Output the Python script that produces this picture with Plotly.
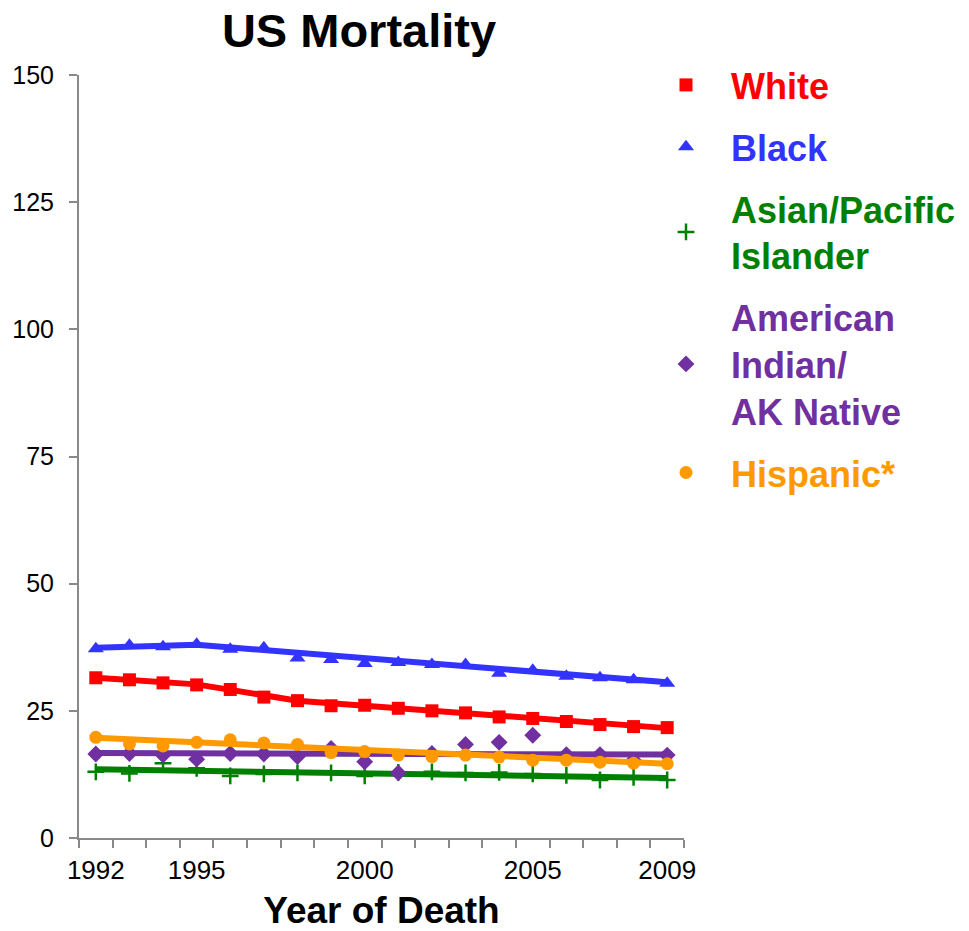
import plotly.graph_objects as go

years = list(range(1992, 2010))

white = [31.5, 31.1, 30.5, 30.1, 29.2, 27.7, 27.0, 26.0, 26.1, 25.5, 25.0, 24.6, 23.8, 23.5, 22.9, 22.3, 21.9, 21.7]
black = [37.2, 37.9, 37.6, 38.1, 37.1, 37.4, 35.4, 35.1, 34.3, 34.5, 34.1, 34.1, 32.4, 33.0, 31.8, 31.5, 31.1, 30.4]
api = [13.0, 12.7, 14.7, 13.7, 12.2, 12.6, 12.8, 12.8, 12.2, 12.9, 13.0, 12.8, 12.9, 12.6, 12.3, 11.4, 11.9, 11.4]
aian = [16.5, 16.6, 16.3, 15.5, 16.6, 16.5, 16.0, 17.6, 15.0, 12.8, 16.6, 18.4, 18.8, 20.2, 16.4, 16.4, 15.3, 16.3]
hisp = [19.8, 18.5, 18.1, 18.8, 19.3, 18.7, 18.4, 16.8, 17.0, 16.3, 16.0, 16.3, 15.9, 15.3, 15.3, 14.9, 14.7, 14.6]

# fitted trend (joinpoint) segments
white_fit_x = [1992, 1995, 1998, 2009]
white_fit_y = [31.5, 30.2, 27.0, 21.6]
black_fit_x = [1992, 1995, 2009]
black_fit_y = [37.4, 38.0, 30.6]
api_fit_x = [1992, 2009]
api_fit_y = [13.5, 11.8]
aian_fit_x = [1992, 2009]
aian_fit_y = [16.7, 16.4]
hisp_fit_x = [1992, 2009]
hisp_fit_y = [19.7, 14.6]

tick_years = [1992, 1995, 2000, 2005, 2009]
tick_labels = ["1992", "1995", "2000", "2005", "2009"]
y_ticks = [0, 25, 50, 75, 100, 125, 150]

RED = "#FF0000"
BLUE = "#3333FF"
GREEN = "#008000"
PURPLE = "#7030A0"
ORANGE = "#FF9900"


def lbl(lines, color):
    return "<br>".join("<b><span style='color:%s'>%s</span></b>" % (color, l) for l in lines)


series = [
    (["White"], white, white_fit_x, white_fit_y, RED, "square", 13, None),
    (["Black"], black, black_fit_x, black_fit_y, BLUE, "triangle-up", 14, None),
    (["Asian/Pacific", "Islander"], api, api_fit_x, api_fit_y, GREEN, "cross-thin", 12, 2.5),
    (["American", "Indian/", "AK Native"], aian, aian_fit_x, aian_fit_y, PURPLE, "diamond", 13, None),
    (["Hispanic*"], hisp, hisp_fit_x, hisp_fit_y, ORANGE, "circle", 13, None),
]

fig = go.Figure()
for i, (name, vals, fx, fy, color, sym, size, lw) in enumerate(series):
    marker = dict(symbol=sym, size=size, color=color)
    if lw:
        marker["line"] = dict(color=color, width=lw)
    fig.add_trace(go.Scatter(
        x=years, y=vals, mode="markers", name=lbl(name, color),
        marker=marker, legendgroup="g%d" % i, showlegend=True,
    ))
    fig.add_trace(go.Scatter(
        x=fx, y=fy, mode="lines", line=dict(color=color, width=6),
        legendgroup="g%d" % i, showlegend=False, hoverinfo="skip",
    ))

W, H = 961, 923
L, R, T, B = 71, 285, 67, 93

fig.update_layout(
    width=W, height=H,
    margin=dict(l=L, r=R, t=T, b=B, autoexpand=False),
    paper_bgcolor="white", plot_bgcolor="white",
    font=dict(family="Arial, Liberation Sans, sans-serif", color="black"),
    title=dict(text="<b>US Mortality</b>", x=(359 - 79) / 605, xref="paper", xanchor="center",
               y=1 - 23 / H, yref="container", yanchor="middle",
               font=dict(size=47, color="black")),
    legend=dict(
        x=(633 - L) / 605, xref="paper", xanchor="left", y=1 + 20 / 763, yanchor="top",
        font=dict(size=36), tracegroupgap=12, itemwidth=80,
        bgcolor="rgba(0,0,0,0)",
    ),
    showlegend=True,
)

fig.update_xaxes(
    range=[1991.5, 2009.5], showgrid=False, zeroline=False,
    showline=True, linecolor="#898989", linewidth=2,
    tickmode="array", tickvals=tick_years, ticktext=tick_labels,
    ticks="", tickfont=dict(size=26, color="black"),
    ticklabelstandoff=8,
    minor=dict(tickmode="linear", tick0=1991.5, dtick=1, ticks="outside",
               ticklen=8, tickwidth=2, tickcolor="#898989", showgrid=False),
    title=dict(text="<b>Year of Death</b>", font=dict(size=37, color="black"), standoff=15),
)
fig.update_yaxes(
    range=[0, 150], showgrid=False, zeroline=False,
    showline=True, linecolor="#898989", linewidth=2,
    tickmode="array", tickvals=y_ticks, ticks="outside", ticklen=8, tickwidth=2,
    tickcolor="#898989", tickfont=dict(size=25, color="black"),
    ticklabelstandoff=10,
)

fig.write_html("out.html")
